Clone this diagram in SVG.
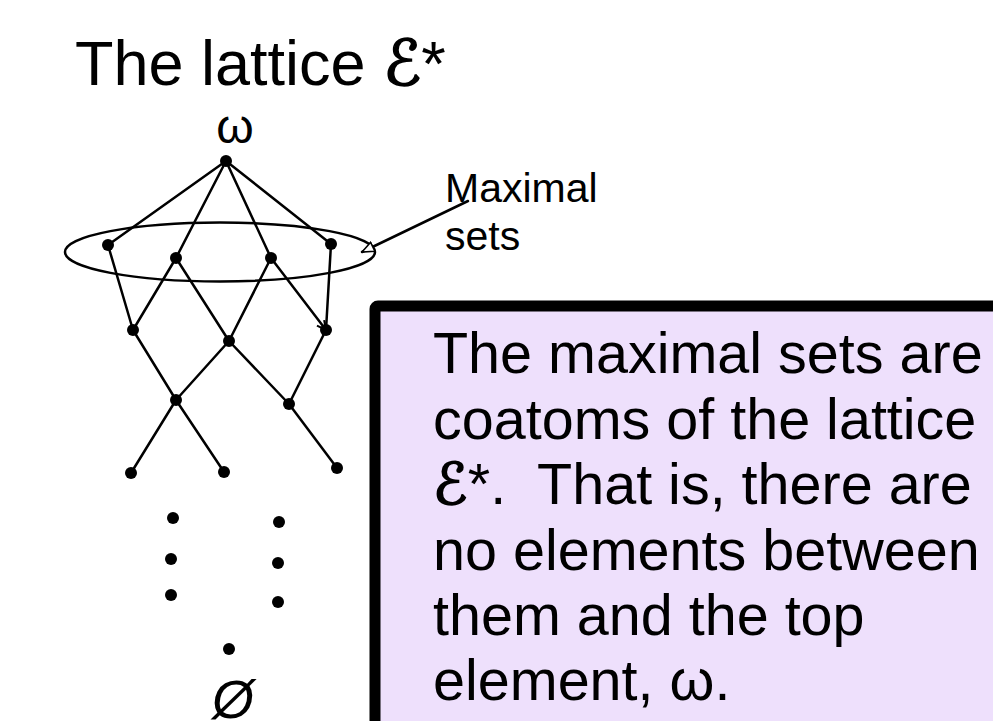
<svg xmlns="http://www.w3.org/2000/svg" width="993" height="721" viewBox="0 0 993 721">
<style>
text{font-family:"Liberation Sans",Arial,sans-serif;fill:#000}
.scr{font-family:"DejaVu Sans","Noto Sans",sans-serif;font-style:italic;stroke:#000;stroke-width:1.6}
.e{stroke:#000;stroke-width:2.5;fill:none;stroke-linecap:round}
.n{fill:#000}
</style>
<defs>
<marker id="open" markerWidth="14" markerHeight="12" refX="13" refY="6" orient="auto" markerUnits="userSpaceOnUse">
<path d="M1,1 L13,6 L1,11 Z" fill="#fff" stroke="#000" stroke-width="1.6"/>
</marker>
<marker id="barb" markerWidth="12" markerHeight="12" refX="10" refY="6" orient="auto" markerUnits="userSpaceOnUse">
<path d="M1,1.5 L10,6 L1,10.5" fill="none" stroke="#000" stroke-width="2"/>
</marker>
</defs>
<rect width="993" height="721" fill="#fff"/>
<text id="title" x="75" y="85" font-size="63">The lattice <tspan class="scr">ℰ</tspan>*</text>
<text id="omega" x="235" y="143" font-size="48" text-anchor="middle">ω</text>
<g id="connectors">
<ellipse class="e" cx="220" cy="252" rx="155" ry="29.5"/>
<line class="e" x1="226" y1="161" x2="108" y2="245"/>
<line class="e" x1="226" y1="161" x2="176" y2="258"/>
<line class="e" x1="226" y1="161" x2="271" y2="258"/>
<line class="e" x1="226" y1="161" x2="331" y2="244"/>
<line class="e" x1="108" y1="245" x2="133" y2="330"/>
<line class="e" x1="176" y1="258" x2="133" y2="330"/>
<line class="e" x1="176" y1="258" x2="229" y2="341"/>
<line class="e" x1="271" y1="258" x2="229" y2="341"/>
<line class="e" x1="271" y1="258" x2="326" y2="330" marker-end="url(#barb)"/>
<line class="e" x1="331" y1="244" x2="326" y2="330"/>
<line class="e" x1="133" y1="330" x2="176" y2="400"/>
<line class="e" x1="229" y1="341" x2="176" y2="400"/>
<line class="e" x1="229" y1="341" x2="289" y2="404"/>
<line class="e" x1="326" y1="330" x2="289" y2="404"/>
<line class="e" x1="176" y1="400" x2="131" y2="473"/>
<line class="e" x1="176" y1="400" x2="224" y2="472"/>
<line class="e" x1="289" y1="404" x2="337" y2="468"/>
<line class="e" x1="468" y1="201" x2="362" y2="252" stroke-width="2" marker-end="url(#open)"/>
</g>
<g id="nodes">
<circle id="top" class="n" cx="226" cy="161" r="6"/>
<circle id="m1" class="n" cx="108" cy="245" r="6"/>
<circle id="m2" class="n" cx="176" cy="258" r="6"/>
<circle id="m3" class="n" cx="271" cy="258" r="6"/>
<circle id="m4" class="n" cx="331" cy="244" r="6"/>
<circle id="l1" class="n" cx="133" cy="330" r="6"/>
<circle id="l2" class="n" cx="229" cy="341" r="6"/>
<circle id="l3" class="n" cx="326" cy="330" r="6"/>
<circle id="k1" class="n" cx="176" cy="400" r="6"/>
<circle id="k2" class="n" cx="289" cy="404" r="6"/>
<circle id="b1" class="n" cx="131" cy="473" r="6"/>
<circle id="b2" class="n" cx="224" cy="472" r="6"/>
<circle id="b3" class="n" cx="337" cy="468" r="6"/>
<circle class="n" cx="173" cy="518" r="6"/>
<circle class="n" cx="171" cy="559" r="6"/>
<circle class="n" cx="171" cy="595" r="6"/>
<circle class="n" cx="279" cy="522" r="6"/>
<circle class="n" cx="278" cy="563" r="6"/>
<circle class="n" cx="278" cy="602" r="6"/>
<circle id="bottom" class="n" cx="229" cy="649" r="6"/>
</g>
<text id="empty" x="233" y="718" font-size="54" font-style="italic" text-anchor="middle">Ø</text>
<g id="label">
<text x="445" y="202" font-size="41" fill="#111">Maximal</text>
<text x="445" y="250" font-size="41" fill="#111">sets</text>
</g>
<g id="note">
<rect x="375" y="306" width="700" height="500" rx="3" fill="#EEE0FC" stroke="#000" stroke-width="11"/>
<text font-size="57.5">
<tspan x="433" y="373">The maximal sets are</tspan>
<tspan x="433" y="438.5">coatoms of the lattice</tspan>
<tspan x="433" y="504"><tspan class="scr">ℰ</tspan>*.&#160; That is, there are</tspan>
<tspan x="433" y="569.5">no elements between</tspan>
<tspan x="433" y="635">them and the top</tspan>
<tspan x="433" y="700">element, ω.</tspan>
</text>
</g>
</svg>
